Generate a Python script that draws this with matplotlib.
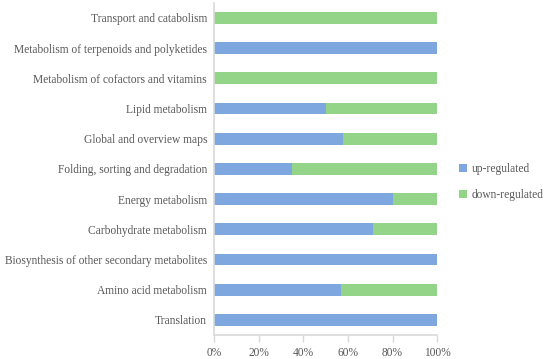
import matplotlib
matplotlib.use('Agg')
from matplotlib import pyplot as plt
from matplotlib.ticker import PercentFormatter

categories = ['Translation', 'Amino acid metabolism',
              'Biosynthesis of other secondary metabolites',
              'Carbohydrate metabolism', 'Energy metabolism',
              'Folding, sorting and degradation', 'Global and overview maps',
              'Lipid metabolism', 'Metabolism of cofactors and vitamins',
              'Metabolism of terpenoids and polyketides',
              'Transport and catabolism']
up = [1.0, 0.57, 1.0, 0.714, 0.80, 0.35, 0.58, 0.50, 0.0, 1.0, 0.0]
down = [1 - u for u in up]
xticks = [0, 0.2, 0.4, 0.6, 0.8, 1.0]

blue = '#7EA7DF'
green = '#93D488'
textc = '#595959'
linec = '#D9D9D9'

plt.rcParams['font.family'] = ['Liberation Serif', 'DejaVu Serif']

fig = plt.figure(figsize=(5.5, 3.59), dpi=100)
ax = fig.add_axes([0.389, 0.067, 0.406, 0.925])

y = range(len(categories))
ax.barh(y, up, height=0.39, color=blue, label='up-regulated')
ax.barh(y, down, left=up, height=0.39, color=green, label='down-regulated')

ax.set_ylim(-0.5, len(categories) - 0.5)
ax.set_xlim(0, 1)
ax.set_yticks(list(y))
ax.set_yticklabels(categories, fontsize=8.3, color=textc)
ax.set_xticks(xticks)
ax.xaxis.set_major_formatter(PercentFormatter(1.0, decimals=0))
ax.tick_params(axis='x', labelsize=8.3, labelcolor=textc, color=linec,
               length=5, width=1, pad=4)
ax.tick_params(axis='y', length=0, pad=5)

for s in ['top', 'right']:
    ax.spines[s].set_visible(False)
for s in ['left', 'bottom']:
    ax.spines[s].set_color(linec)
    ax.spines[s].set_linewidth(1.2)

fig.legend(loc='center left', bbox_to_anchor=(0.816, 0.493), frameon=False,
           fontsize=8.3, labelcolor=textc, handlelength=0.7, handleheight=0.7,
           handletextpad=0.4, labelspacing=1.25)

fig.savefig('out.png', dpi=100)
